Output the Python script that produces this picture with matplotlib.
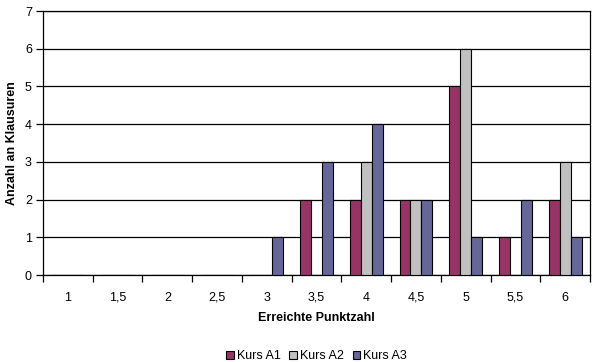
import numpy as np
import matplotlib.pyplot as plt

plt.rcParams['font.family'] = ['Liberation Sans', 'DejaVu Sans']

# data
categories = ['1', '1,5', '2', '2,5', '3', '3,5', '4', '4,5', '5', '5,5', '6']
kurs_a1 = [0, 0, 0, 0, 0, 2, 2, 2, 5, 1, 2]
kurs_a2 = [0, 0, 0, 0, 0, 0, 3, 2, 6, 0, 3]
kurs_a3 = [0, 0, 0, 0, 1, 3, 4, 2, 1, 2, 1]
series_names = ['Kurs A1', 'Kurs A2', 'Kurs A3']
colors = ['#993366', '#C0C0C0', '#666699']

fig = plt.figure(figsize=(5.96, 3.62), dpi=100)
ax = fig.add_axes([43 / 596, 1 - 275 / 362, 547 / 596, 264 / 362])

x = np.arange(len(categories))
w = 0.22
for k, (vals, name, c) in enumerate(zip([kurs_a1, kurs_a2, kurs_a3], series_names, colors)):
    ax.bar(x + (k - 1) * w, vals, width=w, color=c, edgecolor='black',
           linewidth=0.8, label=name, zorder=3)

ax.set_xlim(-0.5, len(categories) - 0.5)
ax.set_ylim(0, 7)
ax.set_yticks(range(0, 8))
ax.yaxis.grid(True, color='black', linewidth=0.9, zorder=0)

ax.set_xticks(x)
ax.set_xticklabels(categories)
ax.set_xticks(np.arange(-0.5, len(categories), 1), minor=True)
ax.tick_params(axis='x', which='major', length=0, pad=12, labelsize=9)
ax.tick_params(axis='x', which='minor', length=5, direction='out', width=0.9)
ax.tick_params(axis='y', length=5, direction='out', width=0.9, labelsize=9, pad=3)

for s in ax.spines.values():
    s.set_color('black')
    s.set_linewidth(0.9)

ax.set_xlabel('Erreichte Punktzahl', fontsize=9, fontweight='bold', labelpad=6)
ax.set_ylabel('Anzahl an Klausuren', fontsize=9, fontweight='bold', labelpad=5)

ax.legend(loc='upper center', bbox_to_anchor=(0.5, -0.265), ncol=3, frameon=False,
          fontsize=9, handlelength=0.6, handleheight=0.6, handletextpad=0.25,
          columnspacing=0.7, borderaxespad=0)

fig.savefig('out.png', dpi=100)
